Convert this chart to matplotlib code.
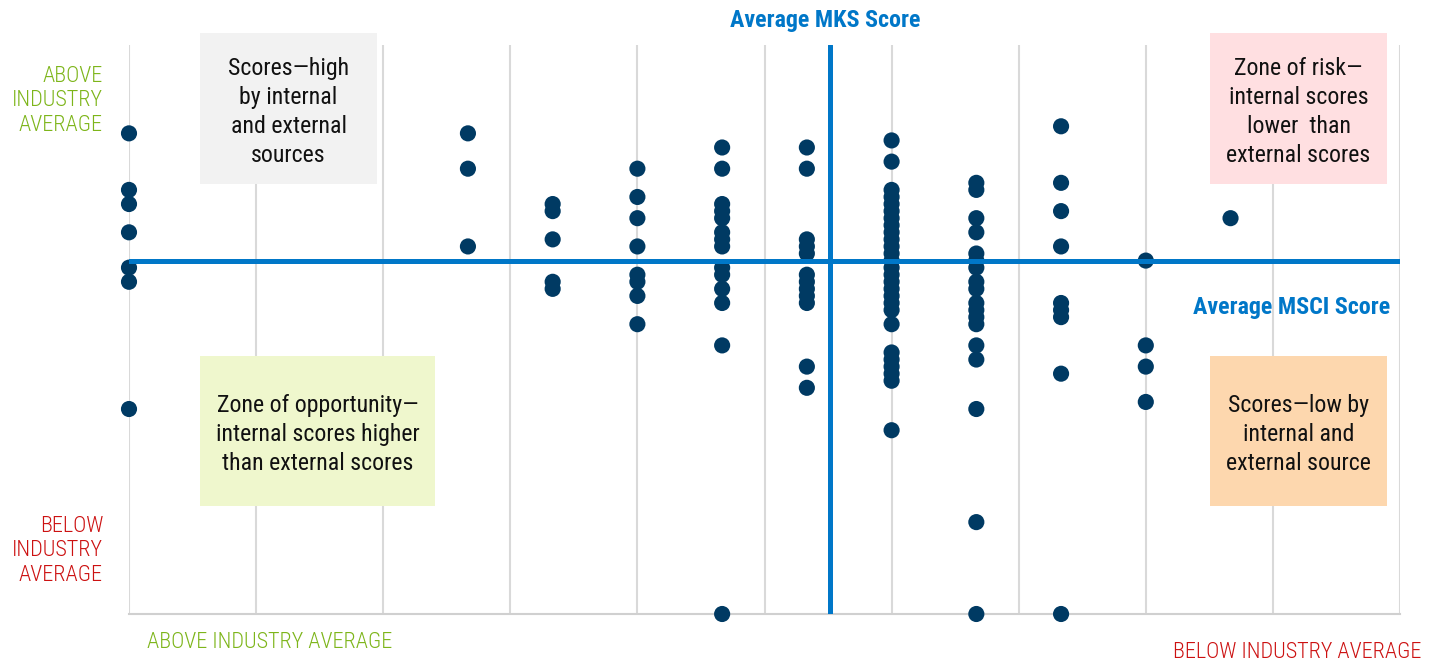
import matplotlib
matplotlib.use("Agg")
import matplotlib.pyplot as plt
from matplotlib.patches import Rectangle

plt.rcParams['font.family'] = ['Roboto Condensed', 'Liberation Sans Narrow', 'DejaVu Sans']
plt.rcParams['font.stretch'] = 'condensed'

# MKS score columns (x) and MSCI score values (y) for every company
col_x = [0, 8, 10, 12, 14, 16, 18, 20, 22, 24, 26]
col_y = [
    [68, 60, 58, 54, 49, 47, 29],
    [68, 63, 52],
    [58, 57, 53, 47, 46],
    [63, 59, 56, 52, 48, 47, 45, 41],
    [66, 63, 58, 57, 56, 54, 53, 52, 49, 48, 46, 44, 38, 0],
    [66, 63, 53, 52, 51, 48, 47, 46, 45, 44, 35, 32],
    [67, 64, 60, 59, 58, 57, 56, 55, 54, 53, 52, 51, 50, 49, 48, 47, 46, 45, 44, 43,
     41, 37, 36, 35, 34, 33, 26],
    [61, 60, 56, 54, 51, 50, 49, 47, 46, 44, 43, 42, 41, 38, 36, 29, 13, 0],
    [69, 61, 57, 52, 44, 43, 42, 34, 0],
    [50, 38, 35, 30],
    [56],
]
avg_mks = 16.55
avg_msci = 50
grid_x = [0, 3, 6, 9, 12, 15, 18, 21, 24, 27, 30]

box_texts = [
    "Scores\u2014high\nby internal\nand external\nsources",
    "Zone of opportunity\u2014\ninternal scores higher\nthan external scores",
    "Zone of risk\u2014\ninternal scores\nlower  than\nexternal scores",
    "Scores\u2014low by\ninternal and\nexternal source",
]
box_colors = ["#F2F2F2", "#EFF7CD", "#FFDFE1", "#FDD7AE"]
# (x0, x1, y0, y1) in data units
box_extent = [(1.676, 5.854, 60.8, 82.2), (1.676, 7.22, 15.3, 36.5),
              (25.52, 29.69, 60.8, 82.2), (25.52, 29.69, 15.3, 36.5)]

W, H = 1439, 664
fig = plt.figure(figsize=(W / 100, H / 100), dpi=100)
ax = fig.add_axes([129 / W, 50 / H, (1400 - 129) / W, (614 - 45) / H])
ax.set_xlim(0, 30)
ax.set_ylim(0, 80.5)
for s in ['top', 'right', 'left']:
    ax.spines[s].set_visible(False)
ax.spines['bottom'].set_color('#d0d0d0')
ax.spines['bottom'].set_linewidth(1.5)
ax.set_xticks([])
ax.set_yticks([])
for gx in grid_x:
    ax.axvline(gx, color='#d9d9d9', lw=1.5, zorder=0)

for (x0, x1, y0, y1), c, t in zip(box_extent, box_colors, box_texts):
    ax.add_patch(Rectangle((x0, y0), x1 - x0, y1 - y0, facecolor=c, edgecolor='none',
                           zorder=1, clip_on=False))
    ax.text((x0 + x1) / 2, (y0 + y1) / 2 - 0.45, t, ha='center', va='center', fontsize=17.2,
            color='#111111', linespacing=1.33, zorder=2)

xs, ys = [], []
for cx, vals in zip(col_x, col_y):
    xs += [cx] * len(vals)
    ys += vals
ax.scatter(xs, ys, s=135, color='#003A63', edgecolors='none', zorder=3, clip_on=False)

ax.axhline(avg_msci, color='#0077C8', lw=3.6, zorder=4, solid_capstyle='round')
ax.axvline(avg_mks, color='#0077C8', lw=3.6, zorder=4, solid_capstyle='round')

ax.text(27.45, 43.3, "Average MSCI Score", ha='center', va='center', fontsize=17.3,
        fontweight='bold', color='#0077C8')
fig.text(825 / W, 1 - 20 / H, "Average MKS Score", ha='center', va='center', fontsize=17.3,
         fontweight='bold', color='#0077C8')

green = '#7DB51A'
red = '#CC1111'
fig.text(103 / W, 1 - 101 / H, "ABOVE\nINDUSTRY\nAVERAGE", ha='right', va='center',
         fontsize=16, color=green, linespacing=1.19, fontweight='light')
fig.text(103 / W, 1 - 551 / H, "BELOW\nINDUSTRY\nAVERAGE", ha='right', va='center',
         fontsize=16, color=red, linespacing=1.19, fontweight='light')
fig.text(269.5 / W, 1 - 643 / H, "ABOVE INDUSTRY AVERAGE", ha='center', va='center',
         fontsize=16, color=green, fontweight='light')
fig.text(1297 / W, 1 - 653 / H, "BELOW INDUSTRY AVERAGE", ha='center', va='center',
         fontsize=16, color=red, fontweight='light')

fig.savefig("out.png", dpi=100)
